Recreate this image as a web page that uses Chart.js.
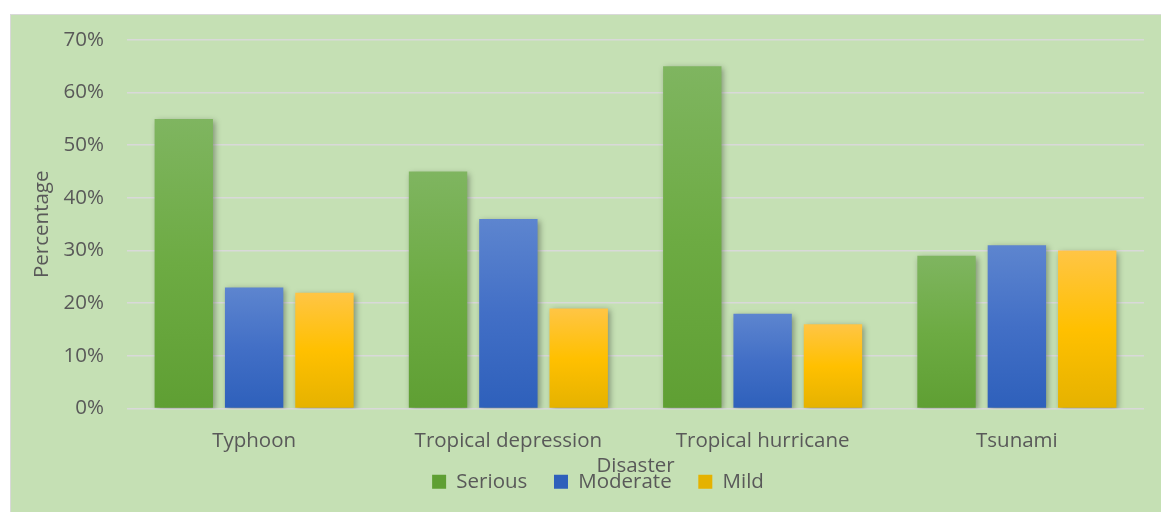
<!DOCTYPE html>
<html>
<head>
<meta charset="utf-8">
<script src="https://cdn.jsdelivr.net/npm/chart.js@4/dist/chart.umd.min.js"></script>
<style>
  html, body { margin: 0; padding: 0; background: #ffffff; overflow: hidden; }
  #box {
    position: absolute; left: 10px; top: 14px;
    width: 1151px; height: 498px;
    background: #c5e0b4;
    border-left: 1px solid #d9d9d9; border-top: 1px solid #d9d9d9;
    box-sizing: border-box;
  }
  #barchart { display: block; }
</style>
</head>
<body>
<div id="box"><canvas id="barchart" width="1150" height="497"></canvas></div>
<script>
// data
const disasters = ['Typhoon', 'Tropical depression', 'Tropical hurricane', 'Tsunami']
const serious = [55, 45, 65, 29]
const moderate = [23, 36, 18, 31]
const mild = [22, 19, 16, 30]
const yTicks = [0, 10, 20, 30, 40, 50, 60, 70]

const textColor = '#595959'
const fontFamily = '"Open Sans", "DejaVu Sans", sans-serif'
const fontSize = 20.5

// gradient per bar, top colour -> bottom colour
function barGradient(top, mid, bottom) {
    return function (context) {
        const chart = context.chart
        if (!chart.chartArea || context.raw == null) return bottom
        const y = chart.scales.y
        const y0 = y.getPixelForValue(context.raw)
        const y1 = y.getPixelForValue(0)
        const g = chart.ctx.createLinearGradient(0, y0, 0, y1)
        g.addColorStop(0, top)
        g.addColorStop(0.5, mid)
        g.addColorStop(1, bottom)
        return g
    }
}

const shadowPlugin = {
    id: 'barShadow',
    beforeDatasetsDraw(chart) {
        const ctx = chart.ctx
        ctx.save()
        ctx.shadowColor = 'rgba(0, 0, 0, 0.35)'
        ctx.shadowBlur = 6
        ctx.shadowOffsetX = 2
        ctx.shadowOffsetY = 2
    },
    afterDatasetsDraw(chart) {
        chart.ctx.restore()
    }
}

const bar_data = {
    labels: disasters,
    datasets: [{
        label: 'Serious',
        data: serious,
        backgroundColor: barGradient('#7fb560', '#6dab43', '#5f9f33')
    },
        {
            label: 'Moderate',
            data: moderate,
            backgroundColor: barGradient('#5d85cf', '#426fc6', '#2e60bb')
        },
        {
            label: 'Mild',
            data: mild,
            backgroundColor: barGradient('#ffc545', '#ffc000', '#e5b200')
        }
    ]
};

var options1 = {
    responsive: false,
    animation: false,
    categoryPercentage: 0.83,
    barPercentage: 0.83,
    layout: {
        padding: {top: 25, left: 41, right: 17, bottom: 10}
    },
    scales: {
        x: {
            grid: {display: false, drawTicks: false},
            border: {display: false},
            ticks: {
                color: textColor,
                padding: 20,
                font: {family: fontFamily, size: fontSize}
            },
            title: {
                display: true,
                text: 'Disaster',
                color: textColor,
                padding: {top: 0, bottom: -23},
                font: {family: fontFamily, size: fontSize}
            },
            afterFit: function (scale) {
                scale.height = 47
            }
        },
        y: {
            min: 0,
            max: 70,
            afterBuildTicks: function (scale) {
                scale.ticks = yTicks.map(v => ({value: v}))
            },
            grid: {color: '#d9d9d9', lineWidth: 1.6, drawTicks: false},
            border: {display: false},
            ticks: {
                color: textColor,
                padding: 23,
                font: {family: fontFamily, size: fontSize},
                callback: function (v) {
                    return v + '%'
                }
            },
            title: {
                display: true,
                text: 'Percentage',
                color: textColor,
                padding: {top: -22, bottom: 0},
                font: {family: fontFamily, size: fontSize}
            },
            afterFit: function (scale) {
                scale.width = 75
                scale.paddingTop = 0
                scale.paddingBottom = 0
            }
        }
    },
    plugins: {
        legend: {
            position: 'bottom',
            labels: {
                color: textColor,
                boxWidth: 14,
                boxHeight: 14,
                padding: 16,
                font: {family: fontFamily, size: fontSize},
                generateLabels: function (chart) {
                    const items = Chart.defaults.plugins.legend.labels.generateLabels(chart)
                    // wider gap between entries, like the original legend
                    items.forEach(function (item, i) {
                        if (i < items.length - 1) item.text = item.text + '  '
                    })
                    return items
                }
            }
        },
        tooltip: {enabled: false}
    }
};

var ctx = document.getElementById('barchart');
window.chart = new Chart(ctx, {
    type: 'bar',
    data: bar_data,
    options: options1,
    plugins: [shadowPlugin]
});
</script>
</body>
</html>
